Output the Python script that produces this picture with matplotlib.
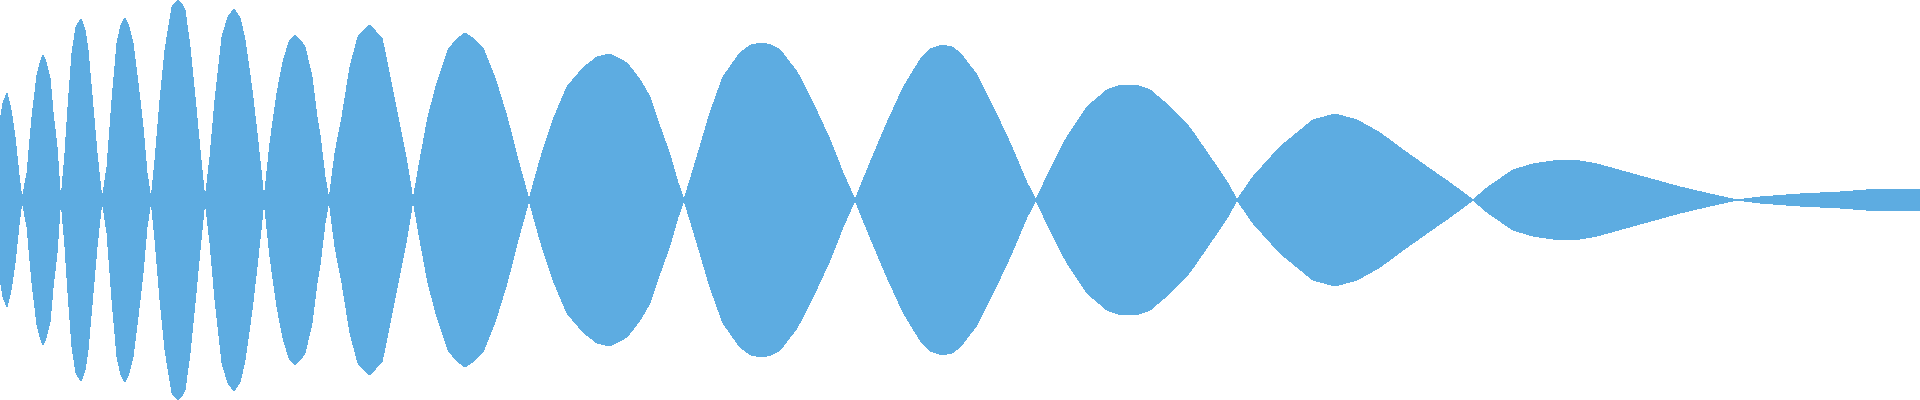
"""
Forma de onda (envelope simetrico) preenchida em azul
"""
# Importando bibliotecas
import numpy as np
import matplotlib
matplotlib.use('Agg')
import matplotlib.pyplot as plt

# Posicoes das amostras (eixo do tempo, 0 a 1920)
tempo = [0, 3, 7, 11, 15, 19, 22,
         27, 32, 37, 40, 43, 46, 50, 53, 57, 60, 61,
         65, 68, 72, 76, 81, 85, 88, 93, 97, 102,
         107, 112, 117, 121, 125, 129, 133, 138, 143, 147, 151,
         155, 160, 165, 172, 175, 178, 181, 185, 190, 195, 200, 205,
         210, 215, 222, 228, 234, 240, 245, 252, 257, 262, 264,
         270, 277, 283, 289, 295, 301, 305, 312, 317, 320, 325, 329,
         335, 342, 350, 358, 364, 370, 376, 382, 390, 398, 406, 413,
         420, 428, 437, 448, 456, 465, 474, 483, 495, 507, 518, 529,
         540, 553, 567, 583, 597, 610, 627, 640, 650, 660, 670, 678, 684,
         697, 710, 723, 740, 751, 762, 771, 780, 797, 813, 830, 843, 855,
         870, 887, 903, 920, 930, 942, 952, 960, 977, 993, 1010, 1027, 1036,
         1050, 1067, 1087, 1107, 1118, 1128, 1139, 1150, 1170, 1190, 1210, 1227, 1237,
         1253, 1280, 1297, 1313, 1335, 1357, 1380, 1403, 1427, 1450, 1473,
         1487, 1513, 1533, 1560, 1580, 1597, 1640, 1680, 1710, 1737,
         1760, 1800, 1840, 1880, 1920]

# Amplitude do envelope
amplitude = [79, 97, 107, 90, 63, 25, 0,
             27, 83, 125, 137, 145, 138, 122, 88, 53, 10, 0,
             47, 93, 147, 173, 181, 170, 150, 93, 47, 0,
             33, 100, 157, 175, 182, 173, 157, 117, 73, 27, 0,
             40, 100, 150, 193, 197, 200, 197, 190, 153, 103, 50, 0,
             43, 100, 163, 183, 191, 182, 160, 110, 67, 20, 0,
             57, 107, 138, 158, 165, 159, 153, 123, 83, 65, 23, 0,
             47, 83, 133, 163, 170, 175, 168, 162, 123, 83, 43, 0,
             40, 83, 117, 150, 160, 167, 161, 152, 122, 83, 40, 0,
             40, 80, 113, 132, 143, 146, 137, 120, 103, 73, 45, 17, 0,
             43, 87, 123, 147, 155, 157, 155, 150, 128, 97, 60, 27, 0,
             37, 77, 112, 140, 151, 155, 153, 147, 125, 93, 57, 17, 0,
             30, 63, 93, 110, 114, 115, 114, 110, 93, 72, 43, 18, 0,
             23, 53, 67, 80, 86, 80, 67, 50, 33, 17, 0,
             12, 30, 36, 40, 39, 36, 24, 13, 6, 0,
             3, 6, 8, 11, 11]

cor = '#5dace1'

# Plotando resultados
fig = plt.figure(figsize=(19.2, 4), dpi=100)
ax = fig.add_axes([0, 0, 1, 1])
t = np.array(tempo)
a = np.array(amplitude)
ax.fill_between(t, -a, a, color=cor, lw=0, antialiased=False)
ax.set_xlim(0, 1920)
ax.set_ylim(-200, 200)
ax.axis('off')

fig.savefig('out.png', dpi=100)
